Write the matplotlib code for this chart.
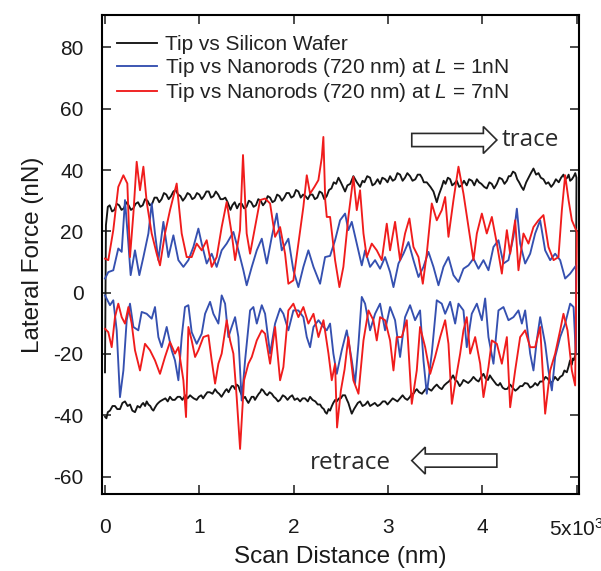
import matplotlib
matplotlib.use("Agg")
import matplotlib.pyplot as plt
from matplotlib.patches import FancyArrow
import numpy as np

plt.rcParams['font.family'] = ['Liberation Sans', 'DejaVu Sans']
plt.rcParams['mathtext.fontset'] = 'custom'
plt.rcParams['mathtext.rm'] = 'Liberation Sans'
plt.rcParams['mathtext.it'] = 'Liberation Sans:italic'
plt.rcParams['axes.unicode_minus'] = False

# ---- data: (scan distance nm, lateral force nN) ----
# silicon wafer, trace (forward scan)
wafer_trace = [
    (0, -26), (10, 22), (30, 28), (50, 28.5), (75, 26.5), (100, 27), (125, 29), (150, 28.5),
    (175, 27), (200, 27.5), (225, 29.5), (250, 28.5), (275, 27), (300, 27.5), (325, 29), (350, 29.5),
    (375, 28), (400, 28.5), (425, 30.5), (450, 30), (475, 28.5), (500, 29), (525, 31), (550, 31),
    (575, 29.5), (600, 30.5), (625, 32.5), (650, 32), (675, 30.5), (700, 31.5), (725, 33), (750, 33.5),
    (775, 32), (800, 31.5), (825, 30), (850, 31), (875, 32.5), (900, 32), (925, 30.5), (950, 31),
    (975, 32.5), (1000, 32), (1025, 30.5), (1050, 31.5), (1075, 33), (1100, 33), (1125, 31), (1150, 31.5),
    (1175, 33), (1200, 32), (1225, 30.5), (1250, 30.5), (1275, 31), (1300, 29.5), (1330, 27), (1350, 28.5),
    (1375, 29.5), (1400, 27.5), (1425, 29), (1450, 29), (1475, 27.5), (1500, 28), (1525, 30), (1550, 29.5),
    (1575, 28), (1600, 28.5), (1625, 30.5), (1650, 30), (1675, 28.5), (1700, 29.5), (1725, 31.5), (1750, 31),
    (1775, 29.5), (1800, 30), (1825, 32), (1850, 31.5), (1875, 30), (1900, 31), (1925, 32.5), (1950, 32.5),
    (1975, 31), (2000, 31.5), (2025, 33.5), (2050, 33), (2075, 31), (2100, 32), (2125, 31.5), (2150, 30.5),
    (2175, 32), (2200, 32), (2225, 30.5), (2250, 31), (2275, 33), (2300, 32.5), (2325, 30.5), (2350, 31.5),
    (2375, 33.5), (2400, 34), (2425, 36), (2450, 35.5), (2475, 37.5), (2500, 36), (2545, 33), (2570, 35),
    (2600, 35.5), (2633, 38), (2670, 36), (2704, 34.5), (2730, 36.5), (2750, 36), (2780, 38), (2810, 37.5),
    (2835, 35), (2860, 35.5), (2890, 37), (2916, 35.5), (2940, 37.5), (2970, 37), (2995, 36), (3022, 38),
    (3050, 36.5), (3075, 37), (3100, 39), (3128, 38.5), (3155, 36.5), (3180, 37.5), (3205, 39), (3234, 38),
    (3260, 36.5), (3290, 37), (3315, 38.5), (3340, 38.5), (3360, 37.5), (3380, 36), (3411, 36), (3450, 34.5),
    (3482, 33), (3517, 29.5), (3540, 32), (3570, 34.5), (3590, 36.5), (3610, 35.5), (3635, 37.5), (3659, 37),
    (3680, 35), (3700, 35.5), (3729, 36.5), (3755, 34.5), (3780, 35), (3805, 36.5), (3835, 35), (3860, 37),
    (3890, 36.5), (3915, 35), (3942, 37), (3965, 36), (3990, 35.5), (4020, 34.5), (4047, 34), (4075, 36),
    (4100, 35.5), (4125, 34), (4154, 35.5), (4180, 37.5), (4210, 37), (4235, 35.5), (4260, 36.5), (4280, 38),
    (4300, 38), (4325, 39.5), (4348, 39), (4370, 37), (4390, 36), (4415, 34.5), (4436, 33.5), (4465, 36),
    (4490, 37.5), (4515, 39), (4542, 40.5), (4570, 38.5), (4595, 39), (4620, 37.5), (4648, 37), (4675, 35.5),
    (4700, 36), (4730, 34.5), (4755, 35.5), (4780, 37), (4810, 36), (4835, 37.5), (4860, 38.5), (4880, 37),
    (4900, 37.5), (4915, 38.5), (4931, 36.5), (4950, 37), (4970, 38), (4985, 39), (4998, 37.5),
]
# silicon wafer, retrace (backward scan)
wafer_retrace = [
    (0, -40.5), (15, -41), (30, -39), (53, -38.5), (80, -37), (106, -37), (130, -38), (159, -38),
    (185, -36), (212, -35.5), (240, -37), (265, -36.5), (290, -38.5), (318, -39), (345, -37), (371, -37.5),
    (390, -36.5), (405, -36), (425, -37), (442, -35.5), (460, -36.5), (480, -37), (497, -38), (513, -38.5),
    (530, -37.5), (550, -36.5), (565, -36), (583, -35.5), (610, -35), (640, -34.5), (665, -35.5), (689, -34),
    (715, -35), (740, -35), (770, -34), (796, -34), (820, -35), (850, -33.5), (875, -34.5), (902, -33.5),
    (920, -34), (940, -34.5), (972, -35), (995, -34), (1020, -33.5), (1040, -34.5), (1061, -33.5), (1085, -32.5),
    (1110, -32.5), (1140, -33), (1167, -31.5), (1190, -32.5), (1210, -33), (1235, -34), (1255, -33), (1275, -32),
    (1290, -31.5), (1310, -32.5), (1326, -31.5), (1345, -30.5), (1360, -30.5), (1380, -31.5), (1396, -30), (1415, -30.5),
    (1430, -32), (1450, -33.5), (1467, -34.5), (1485, -34), (1500, -35), (1520, -36), (1538, -35), (1555, -34),
    (1575, -34), (1590, -35), (1609, -34), (1630, -33), (1645, -32.5), (1660, -31.5), (1679, -32), (1700, -33),
    (1720, -33.5), (1745, -32.5), (1768, -33), (1790, -34), (1810, -34.5), (1835, -35.5), (1856, -35), (1885, -33.5),
    (1910, -34), (1935, -35), (1962, -34), (1985, -33.5), (2010, -35), (2040, -34.5), (2068, -35.5), (2095, -34.5),
    (2120, -34.5), (2150, -35.5), (2174, -34), (2200, -35), (2230, -35.5), (2255, -36.5), (2280, -36.5), (2300, -37.5),
    (2320, -38), (2335, -39), (2351, -39.5), (2370, -38), (2386, -38.5), (2405, -37), (2420, -36), (2440, -35),
    (2457, -35.5), (2480, -34.5), (2500, -34.5), (2520, -33.5), (2545, -33.5), (2565, -35), (2580, -36), (2600, -38),
    (2616, -39.5), (2640, -38), (2660, -37), (2680, -36), (2704, -35.5), (2730, -37), (2760, -36.5), (2785, -35.5),
    (2810, -37), (2835, -36.5), (2860, -36), (2890, -37), (2916, -36.5), (2945, -35.5), (2970, -35.5), (2995, -36.5),
    (3022, -35.5), (3050, -34.5), (3075, -35), (3100, -35.5), (3128, -34.5), (3155, -33.5), (3180, -34.5), (3205, -35),
    (3234, -34), (3250, -33), (3270, -33), (3290, -32), (3305, -31.5), (3330, -32.5), (3360, -33), (3385, -32),
    (3411, -31), (3435, -31.5), (3460, -32), (3490, -30.8), (3517, -30), (3545, -31), (3570, -31.5), (3595, -30.3),
    (3623, -29.5), (3645, -29), (3670, -28), (3690, -27), (3712, -28.5), (3735, -29), (3760, -30.5), (3780, -29.7),
    (3800, -28.5), (3825, -29), (3850, -29.5), (3880, -28.6), (3906, -27.5), (3935, -28.5), (3960, -29), (3985, -27.6),
    (4012, -26.5), (4035, -28), (4060, -28.5), (4080, -27), (4101, -28), (4125, -29), (4150, -30), (4170, -30.3),
    (4189, -29.5), (4215, -31), (4240, -31.5), (4265, -31.4), (4295, -30), (4320, -31), (4350, -32), (4375, -31.4),
    (4401, -30.5), (4425, -30.5), (4450, -29.5), (4480, -29.7), (4507, -31), (4535, -30.5), (4560, -29.5), (4585, -30.3),
    (4613, -29), (4640, -29), (4670, -27.5), (4695, -28.1), (4719, -29.5), (4745, -29), (4770, -27.5), (4800, -28.6),
    (4825, -27.5), (4850, -27), (4870, -25.4), (4896, -26), (4915, -24), (4930, -22.1), (4949, -23.5), (4960, -21.5),
    (4970, -22), (4990, -20),
]

# nanorods, L = 1 nN, trace
rods1_tr_x = [0, 35, 88, 141, 177, 212, 248, 272, 318, 364, 407, 460, 495, 530, 566, 619, 672, 725, 778,
              831, 884, 937, 990, 1025, 1078, 1131, 1184, 1237, 1290, 1361, 1414, 1467, 1502, 1556, 1609,
              1662, 1715, 1768, 1821, 1874, 1944, 1997, 2050, 2103, 2156, 2210, 2280, 2333, 2386, 2439,
              2492, 2545, 2580, 2616, 2669, 2722, 2757, 2810, 2863, 2916, 2969, 3022, 3058, 3111, 3164,
              3217, 3270, 3323, 3376, 3429, 3482, 3535, 3588, 3641, 3694, 3747, 3800, 3853, 3906, 3959,
              4012, 4065, 4118, 4171, 4224, 4277, 4330, 4366, 4401, 4454, 4507, 4560, 4613, 4666, 4719,
              4772, 4825, 4878, 4931, 4995]
rods1_tr_y = [4.6, 6.7, 7.3, 14.4, 13.3, 30.2, 16, 5.7, 13.8, 5.7, 11.6, 19.3, 29.1, 19.3, 10.6, 23.1,
              11.6, 18.7, 10.6, 8.4, 10.6, 14.9, 20.9, 16, 9.5, 12.7, 8.4, 13.8, 16, 19.8, 13.8, 7.3, 2.4,
              8.4, 13.8, 17.6, 9.5, 18.2, 25.8, 13.8, 17.6, 7.3, 1.8, 8.4, 13.8, 8.4, 2.9, 11.6, 12, 17.1,
              23.6, 25.8, 20.4, 23.1, 16, 8.9, 13.8, 8.4, 10.6, 7.8, 11.6, 6.7, 1.8, 9.5, 12.7, 16.5, 10.6,
              5.1, 8.4, 13.3, 8.4, 2.4, 8.4, 11.6, 5.7, 3.5, 7.8, 8.9, 11.1, 7.8, 10.6, 7.3, 14.9, 17.1,
              9.5, 10.6, 18.2, 27.4, 16, 9.5, 12.7, 19.3, 23.6, 13.8, 10.6, 12.7, 10.6, 4.6, 6.2, 8.9]
# nanorods, L = 1 nN, retrace
rods1_rt_x = [0, 18, 53, 88, 124, 159, 195, 230, 265, 301, 353, 389, 442, 495, 530, 566, 601, 654, 707,
              742, 778, 813, 848, 884, 919, 972, 1025, 1061, 1114, 1149, 1202, 1237, 1273, 1308, 1343,
              1379, 1414, 1449, 1485, 1538, 1573, 1609, 1662, 1697, 1750, 1803, 1856, 1891, 1944, 1997,
              2050, 2103, 2139, 2174, 2210, 2263, 2316, 2351, 2386, 2421, 2457, 2510, 2563, 2616, 2651,
              2687, 2722, 2757, 2810, 2863, 2916, 2969, 3022, 3075, 3128, 3181, 3234, 3287, 3340, 3376,
              3411, 3464, 3517, 3570, 3606, 3659, 3712, 3747, 3800, 3835, 3888, 3942, 3995, 4030, 4065,
              4118, 4171, 4224, 4277, 4330, 4383, 4419, 4454, 4507, 4542, 4577, 4613, 4666, 4701, 4737,
              4772, 4825, 4878, 4931, 4967, 4991]
rods1_rt_y = [-0.9, -2, -4.1, -2.5, -12.3, -34.1, -25.4, -9, -3.6, -11.2, -12.3, -6.3, -6.9, -8.5, -4.7,
              -14.5, -17.8, -11.2, -18.8, -22.1, -28.6, -14.5, -4.7, -4.1, -12.9, -16.7, -13.4, -6.9, -3,
              -6.9, -10.1, -0.9, -3.6, -14.5, -11.2, -8, -14.5, -35.2, -22.1, -5.8, -4.7, -10.1, -4.1,
              -6.9, -19.9, -10.1, -5.2, -6.9, -12.3, -5.8, -5.8, -8, -14.5, -17.8, -11.2, -9, -11.2,
              -12.3, -10.1, -19.9, -26.5, -18.8, -12.3, -22.1, -29.7, -16.7, -1.4, -3.6, -12.3, -6.9,
              -3.6, -12.3, -4.7, -9, -21, -8, -4.1, -9, -5.8, -22.1, -33, -19.9, -2.5, -3.6, -6.9, -3,
              -10.1, -3.6, -5.8, -17.8, -6.9, -3.6, -9, -1.9, -14.5, -23.2, -5.8, -4.7, -9, -8, -5.8,
              -10.1, -5.8, -19.9, -25.4, -15.6, -8, -16.7, -25.4, -31.9, -21, -14.5, -10.1, -3.6, -4.7,
              -19.9]

# nanorods, L = 7 nN, trace
rods7_tr_x = [0, 35, 88, 141, 195, 237, 265, 301, 336, 371, 407, 442, 495, 548, 583, 636, 689, 760, 813,
              866, 919, 972, 1025, 1078, 1131, 1184, 1237, 1290, 1343, 1379, 1431, 1463, 1502, 1538, 1591,
              1644, 1697, 1750, 1803, 1856, 1909, 1944, 1997, 2050, 2103, 2139, 2174, 2220, 2262, 2298,
              2315, 2335, 2351, 2386, 2439, 2485, 2527, 2580, 2633, 2669, 2704, 2740, 2775, 2828, 2881,
              2934, 2987, 3022, 3075, 3128, 3181, 3227, 3270, 3323, 3369, 3411, 3464, 3517, 3570, 3606,
              3641, 3694, 3747, 3800, 3853, 3906, 3942, 3995, 4047, 4101, 4154, 4207, 4260, 4295, 4348,
              4383, 4436, 4489, 4542, 4595, 4648, 4701, 4755, 4807, 4843, 4878, 4914, 4949, 5002]
rods7_tr_y = [11.1, 10.6, 20.4, 34.5, 38.3, 35.6, 11.6, 25.8, 42.7, 33.4, 41.1, 29.6, 19.3, 12.7, 8.9,
              19.3, 26.9, 35.6, 19.3, 11.6, 11.6, 16, 13.8, 17.1, 8.4, 11.6, 21.4, 29.6, 19.3, 10.6, 20.4,
              44.9, 19.3, 12.7, 21.4, 30.2, 30.7, 29.1, 18.2, 21.4, 12.7, 2.9, 4, 16, 28, 38.3, 32.3, 34.5,
              36.7, 44, 50.8, 30, 24.7, 24.7, 10.6, 1.8, 8.4, 24.7, 37.8, 26.9, 33.4, 19.3, 11.6, 16, 13.8,
              10.6, 22.5, 13.8, 23.1, 10.6, 19.3, 24.2, 14.9, 11.6, 2.9, 12.7, 29.1, 23.6, 26.9, 31.2,
              18.2, 30.2, 41.1, 32.3, 21.4, 10.6, 19.3, 25.8, 19.3, 24.7, 16, 6.2, 20.4, 12.7, 23.6, 7.3,
              19.3, 16, 21.4, 23.6, 25.3, 14.9, 10.6, 11.6, 26.9, 38.3, 30.2, 23.6, 19.8]
# nanorods, L = 7 nN, retrace
rods7_rt_x = [0, 35, 71, 106, 141, 177, 212, 248, 283, 318, 371, 424, 477, 530, 583, 636, 689, 742, 778,
              831, 859, 884, 919, 955, 990, 1043, 1096, 1131, 1167, 1202, 1237, 1290, 1326, 1361, 1396,
              1432, 1474, 1520, 1556, 1609, 1662, 1697, 1750, 1803, 1856, 1891, 1944, 1997, 2050, 2103,
              2156, 2210, 2263, 2316, 2369, 2404, 2439, 2460, 2500, 2540, 2580, 2633, 2687, 2740, 2793,
              2845, 2881, 2916, 2969, 3022, 3058, 3093, 3146, 3199, 3252, 3305, 3340, 3394, 3447, 3499,
              3553, 3606, 3641, 3677, 3722, 3765, 3800, 3835, 3871, 3924, 3977, 4012, 4065, 4101, 4154,
              4207, 4260, 4295, 4348, 4401, 4454, 4507, 4560, 4613, 4666, 4719, 4772, 4825, 4860, 4903,
              4949, 4984]
rods7_rt_y = [-11.8, -12.9, -17.8, -8, -3.6, -8, -10.1, -4.7, -10.1, -18.8, -25.4, -16.7, -18.8, -22.1,
              -26.5, -21, -16.1, -19.9, -17.8, -28.6, -40.6, -11.2, -15.6, -21, -18.8, -14.5, -13.9,
              -22.1, -29.7, -23.2, -19.9, -9, -15.6, -19.9, -34.1, -51, -28.6, -23.2, -21, -15.6, -12.3,
              -13.4, -23.2, -11.2, -28.6, -24.3, -5.8, -3.6, -8, -4.7, -10.1, -6.9, -14.5, -9, -19.9,
              -28.6, -23.2, -44, -32, -25, -14.5, -28.6, -33, -15.6, -5.8, -9, -15.6, -8, -9, -15.6,
              -25.4, -14.5, -14.5, -9, -36.3, -25.4, -11.2, -17.8, -26.5, -21, -14.5, -9, -16.7, -36.3,
              -27.6, -19.9, -12.3, -8, -19.9, -14.5, -23.2, -34.1, -24.3, -15.6, -16.7, -23.2, -14.5,
              -37.4, -25.4, -14.5, -12.3, -17.8, -17.8, -11.2, -39.5, -25.4, -19.9, -12.3, -6.9, -12.3,
              -25.4, -30.3]

wafer_tr_x, wafer_tr_y = [list(v) for v in zip(*wafer_trace)]
wafer_rt_x, wafer_rt_y = [list(v) for v in zip(*wafer_retrace)]

labels = ['Tip vs Silicon Wafer',
          r'Tip vs Nanorods (720 nm) at $L$ = 1nN',
          r'Tip vs Nanorods (720 nm) at $L$ = 7nN']
colors = ['#151515', '#3550b0', '#f01c1c']

fig = plt.figure(figsize=(6.01, 5.71), dpi=100)
ax = fig.add_axes([0.1692, 0.1349, 0.7947, 0.8394])

series = [(wafer_tr_x, wafer_tr_y, wafer_rt_x, wafer_rt_y),
          (rods1_tr_x, rods1_tr_y, rods1_rt_x, rods1_rt_y),
          (rods7_tr_x, rods7_tr_y, rods7_rt_x, rods7_rt_y)]
for (tx, ty, rx, ry), lab, c in zip(series, labels, colors):
    # trace forward, then retrace backwards (one continuous scan line)
    xs = np.concatenate([tx, rx[::-1]])
    ys = np.concatenate([ty, ry[::-1]])
    ax.plot(xs, ys, color=c, lw=1.35, label=lab)

ax.set_xlim(-35, 5028)
ax.set_ylim(-65.7, 90.7)
ax.set_xticks([0, 1000, 2000, 3000, 4000, 5000])
ax.set_xticklabels(['0', '1', '2', '3', '4', r'5x10$^3$'])
ax.set_yticks([-60, -40, -20, 0, 20, 40, 60, 80])
ax.tick_params(direction='in', length=6.5, width=1.1, top=True, right=True,
               labelsize=15, colors='#1a1a1a')
ax.tick_params(axis='y', pad=13)
ax.tick_params(axis='x', pad=17)
for s in ax.spines.values():
    s.set_linewidth(1.5)

ax.set_xlabel('Scan Distance (nm)', fontsize=17.5, color='#1a1a1a', labelpad=5)
ax.set_ylabel('Lateral Force (nN)', fontsize=17.5, color='#1a1a1a', labelpad=7)

leg = ax.legend(loc='upper left', bbox_to_anchor=(0.032, 0.957), frameon=False,
                fontsize=15, handlelength=1.9, handletextpad=0.4, labelspacing=0.1,
                borderpad=0, borderaxespad=0)
for t in leg.get_texts():
    t.set_color('#222222')

# trace / retrace arrows with labels
ax.add_patch(FancyArrow(3252, 49.8, 902, 0, width=4.3, head_width=8.8, head_length=143,
                        length_includes_head=True, fc='white', ec='#2a2a2a', lw=1.2, zorder=5))
ax.text(4207, 49.8, 'trace', family='Open Sans', fontsize=17.5, color='#2a2a2a',
        ha='left', va='center')
ax.add_patch(FancyArrow(4154, -54.8, -902, 0, width=4.3, head_width=8.8, head_length=143,
                        length_includes_head=True, fc='white', ec='#2a2a2a', lw=1.2, zorder=5))
ax.text(3030, -55.5, 'retrace', family='Open Sans', fontsize=17.5, color='#2a2a2a',
        ha='right', va='center')

fig.savefig('out.png', dpi=100)
